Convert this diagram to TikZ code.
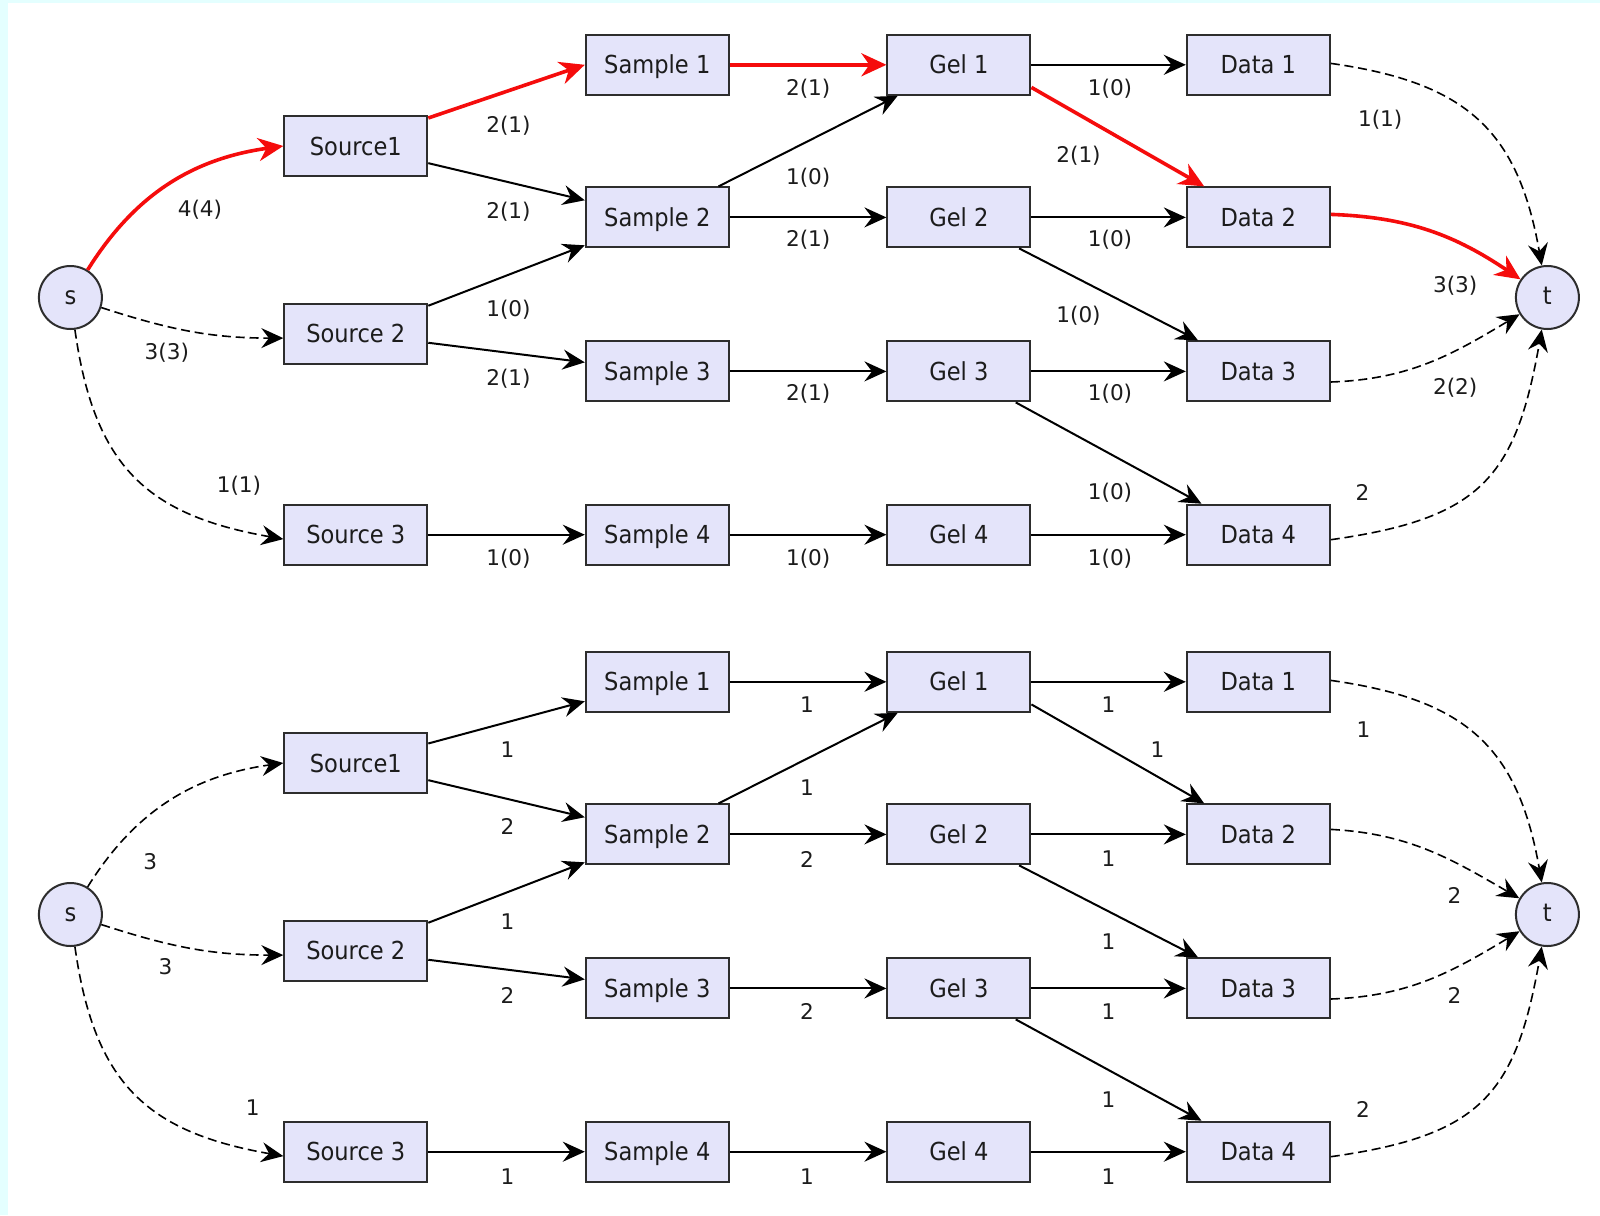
\documentclass[tikz,border=0pt]{standalone}
\usepackage{fontspec}
\setmainfont{DejaVu Sans}
\newfontfamily\boxfont{DejaVu Sans}[FakeStretch=0.91]
\usetikzlibrary{arrows.meta}

\definecolor{boxfill}{RGB}{228,228,250}
\definecolor{boxline}{RGB}{45,45,45}
\definecolor{ink}{RGB}{28,28,28}
\definecolor{pathred}{RGB}{245,12,12}
\definecolor{edgecyan}{RGB}{228,255,255}

\tikzset{
  stage/.style={draw=boxline,line width=1pt,fill=boxfill,text=ink,
    minimum width=71.5pt,minimum height=30pt,inner sep=0pt,
    text height=10pt,text depth=1pt,
    font=\boxfont\fontsize{12.4}{15}\selectfont},
  term/.style={stage,circle,minimum width=31.5pt,minimum height=31.5pt,
    text height=6.8pt,text depth=0pt},
  wt/.style={text=ink,inner sep=0pt,font=\fontsize{10.8}{13}\selectfont},
  flow/.style={->,line width=1pt,draw=black},
  spare/.style={->,line width=0.8pt,draw=black,dash pattern=on 4.5pt off 2.4pt},
  used/.style={->,>={Stealth[length=12.5pt,width=11.5pt,inset=4pt]},line width=1.8pt,draw=pathred},
}

\begin{document}
\begin{tikzpicture}[x=0.5pt,y=-0.5pt,>={Stealth[length=11pt,width=10pt,inset=3.8pt]}]

\fill[white] (0,0) rectangle (1600,1215);
\fill[edgecyan] (0,0) rectangle (8,1215);
\fill[edgecyan] (0,0) rectangle (1600,3);
\useasboundingbox (0,0) rectangle (1600,1215);

% both networks: a = flow, b = capacities
\foreach \n/\dy in {a/0,b/617}{
  \node[term] (\n-s) at (70.4,297.5+\dy) {s};
  \node[term] (\n-t) at (1547.4,297.5+\dy) {t};
  \node[stage] (\n-src1) at (355.8,146+\dy) {Source1};
  \node[stage] (\n-src2) at (355.8,333.7+\dy) {Source 2};
  \node[stage] (\n-src3) at (355.8,534.7+\dy) {Source 3};
  \foreach \i/\y in {1/64.8,2/217.4,3/371.4,4/534.7}{
    \node[stage] (\n-smp\i) at (657.3,\y+\dy) {Sample \i};
    \node[stage] (\n-gel\i) at (958.9,\y+\dy) {Gel \i};
    \node[stage] (\n-dat\i) at (1258.3,\y+\dy) {Data \i};
  }

  \draw[flow] (\n-src1) -- (\n-smp2);
  \draw[flow] (\n-src2) -- (\n-smp2);
  \draw[flow] (\n-src2) -- (\n-smp3);
  \draw[flow] (\n-src3) -- (\n-smp4);
  \draw[flow] (\n-smp2) -- (\n-gel1);
  \draw[flow] (\n-smp2) -- (\n-gel2);
  \draw[flow] (\n-smp3) -- (\n-gel3);
  \draw[flow] (\n-smp4) -- (\n-gel4);
  \draw[flow] (\n-gel1) -- (\n-dat1);
  \draw[flow] (\n-gel2) -- (\n-dat2);
  \draw[flow] (\n-gel2) -- (\n-dat3);
  \draw[flow] (\n-gel3) -- (\n-dat3);
  \draw[flow] (\n-gel3) -- (\n-dat4);
  \draw[flow] (\n-gel4) -- (\n-dat4);

  \draw[spare] (\n-s) to[out=-18,in=180] ([yshift=-2.2pt]\n-src2.west);
  \draw[spare] (\n-s) to[out=-82,in=170,looseness=1.2] ([yshift=-2.2pt]\n-src3.west);
  \draw[spare] ([yshift=0.7pt]\n-dat1.east) to[out=-8,in=100,looseness=1.2] (\n-t);
  \draw[spare] ([yshift=-5.3pt]\n-dat3.east) to[out=2,in=211] (\n-t);
  \draw[spare] ([yshift=-2.5pt]\n-dat4.east) to[out=8,in=-100,looseness=1.3] (\n-t);
}

% augmenting path
\draw[used] (a-s) to[out=58,in=188] (a-src1.west);
\draw[used] ([yshift=-1.5pt]a-src1.north east) -- (a-smp1.west);
\draw[used] (a-smp1) -- (a-gel1);
\draw[used] ([yshift=-11.3pt]a-gel1.east) -- (a-dat2);
\draw[used] ([yshift=1.5pt]a-dat2.east) to[out=-2,in=146] (a-t);

\draw[spare] (b-s) to[out=58,in=188] (b-src1.west);
\draw[flow] (b-src1) -- (b-smp1);
\draw[flow] (b-smp1) -- (b-gel1);
\draw[flow] ([yshift=-11.3pt]b-gel1.east) -- (b-dat2);
\draw[spare] ([yshift=2.5pt]b-dat2.east) to[out=-3,in=150] (b-t);

% weights
\foreach \x/\y/\w [count=\k] in {200/209.5/4(4),166.8/352.5/3(3),239/486/1(1),
    508.5/126/2(1),508.5/211.5/2(1),508.5/309.5/1(0),508.5/378.5/2(1),508.5/559.2/1(0),
    808.2/88.8/2(1),808.2/177.6/1(0),808.2/239.8/2(1),808.2/393.9/2(1),808.2/559.2/1(0),
    1110/88.8/1(0),1078.5/155.5/2(1),1110/240/1(0),1078.5/316.2/1(0),1110/393.9/1(0),
    1110/492.9/1(0),1110/559.2/1(0),1380.2/119.7/1(1),1455.2/285.3/3(3),1455.2/388/2(2),
    1362.5/492.9/2}
  \node[wt] (wa\k) at (\x,\y) {\w};

\foreach \x/\y/\w [count=\k] in {150.2/862.1/3,165.5/966.5/3,252.8/1107.5/1,
    507.6/750/1,507.6/826/2,507.6/922/1,507.6/995/2,507.6/1176.5/1,
    807.1/705.1/1,807.1/787.7/1,807.1/859.2/2,807.1/1011.2/2,807.1/1176.5/1,
    1108.6/705.1/1,1157.4/750/1,1108.6/859/1,1108.6/942/1,1108.6/1011.2/1,
    1108.6/1100/1,1108.6/1176.5/1,1363.4/729.5/1,1454.4/895/2,1454.4/995.5/2,
    1363/1109.1/2}
  \node[wt] (wb\k) at (\x,\y) {\w};

\end{tikzpicture}
\end{document}
